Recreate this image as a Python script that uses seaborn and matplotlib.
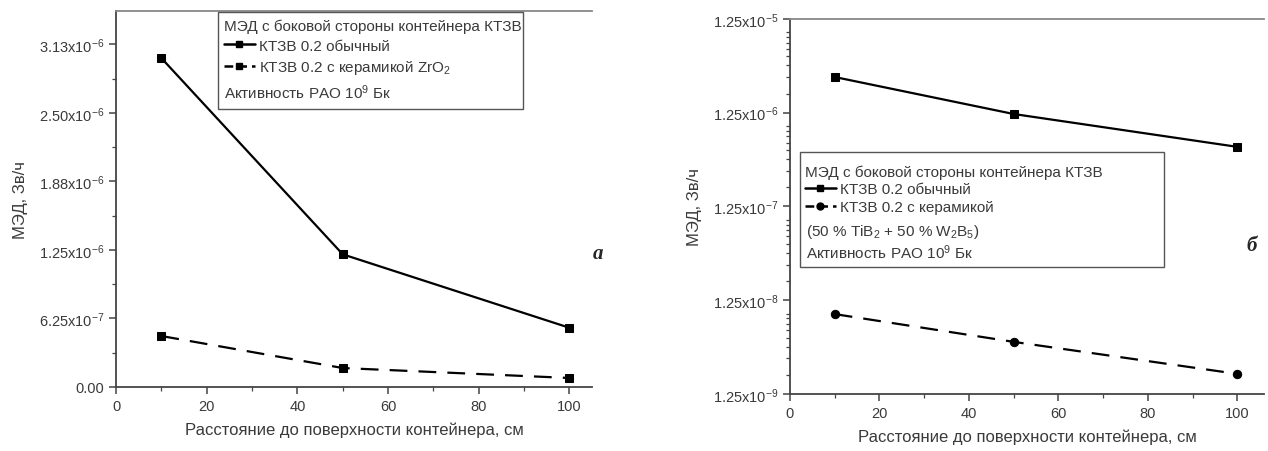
import numpy as np
import pandas as pd
import matplotlib
matplotlib.use("Agg")
import matplotlib.pyplot as plt
import seaborn as sns
from matplotlib.lines import Line2D
from matplotlib.patches import Rectangle
from matplotlib.ticker import FixedLocator, MultipleLocator, LogLocator, NullFormatter

# Данные
rasstoyanie = [10, 50, 100]
med_obychny = [3.0e-6, 1.21e-6, 5.4e-7]
med_zro2 = [4.65e-7, 1.73e-7, 8.2e-8]
med_tib2_w2b5 = [8.9e-9, 4.5e-9, 2.05e-9]

# Подписи делений
yticks_a = [0, 6.25e-7, 1.25e-6, 1.875e-6, 2.5e-6, 3.125e-6]
ylabels_a = ["0.00", r"6.25x10$^{-7}$", r"1.25x10$^{-6}$", r"1.88x10$^{-6}$",
             r"2.50x10$^{-6}$", r"3.13x10$^{-6}$"]
yticks_b = [1.25e-9, 1.25e-8, 1.25e-7, 1.25e-6, 1.25e-5]
ylabels_b = [r"1.25x10$^{-9}$", r"1.25x10$^{-8}$", r"1.25x10$^{-7}$",
             r"1.25x10$^{-6}$", r"1.25x10$^{-5}$"]

sns.set_theme(style="ticks")
plt.rcParams["font.family"] = ["Liberation Sans", "DejaVu Sans"]
plt.rcParams["mathtext.default"] = "regular"

text_color = "#3a3a3a"
spine_color = "#444444"
fs_leg = 11

fig = plt.figure(figsize=(12.68, 4.52), dpi=100)
ax_a = fig.add_axes([0.0915, 0.1416, 0.3755, 0.832])
ax_b = fig.add_axes([0.623, 0.126, 0.374, 0.830])

df_a = pd.DataFrame({"x": rasstoyanie, "obych": med_obychny, "zro2": med_zro2})
df_b = pd.DataFrame({"x": rasstoyanie, "obych": med_obychny, "cer": med_tib2_w2b5})

dash = (0, (8, 5))

# Панель а
sns.lineplot(data=df_a, x="x", y="obych", ax=ax_a, color="black", linewidth=1.6,
             marker="s", markersize=6, markeredgecolor="black")
sns.lineplot(data=df_a, x="x", y="zro2", ax=ax_a, color="black", linewidth=1.6,
             linestyle=dash, marker="s", markersize=6, markeredgecolor="black")

# Панель б
sns.lineplot(data=df_b, x="x", y="obych", ax=ax_b, color="black", linewidth=1.6,
             marker="s", markersize=6, markeredgecolor="black")
sns.lineplot(data=df_b, x="x", y="cer", ax=ax_b, color="black", linewidth=1.6,
             linestyle=dash, marker="o", markersize=6, markeredgecolor="black")

ax_a.set_xlim(0, 105)
ax_a.set_ylim(0, 3.43e-6)
ax_a.yaxis.set_major_locator(FixedLocator(yticks_a))
ax_a.set_yticklabels(ylabels_a)
ax_a.yaxis.set_minor_locator(FixedLocator([3.125e-7 + 6.25e-7 * i for i in range(5)]))

ax_b.set_yscale("log")
ax_b.set_xlim(0, 106)
ax_b.set_ylim(1.25e-9, 1.25e-5)
ax_b.yaxis.set_major_locator(FixedLocator(yticks_b))
ax_b.set_yticklabels(ylabels_b)
ax_b.yaxis.set_minor_locator(LogLocator(base=10, subs=np.arange(2, 10)))
ax_b.yaxis.set_minor_formatter(NullFormatter())

for ax in (ax_a, ax_b):
    ax.xaxis.set_major_locator(MultipleLocator(20))
    ax.xaxis.set_minor_locator(MultipleLocator(10))
    ax.set_xlabel("Расстояние до поверхности контейнера, см", fontsize=12,
                  color=text_color, labelpad=6)
    ax.set_ylabel("МЭД, Зв/ч", fontsize=12, color=text_color, labelpad=8)
    ax.tick_params(which="major", length=5, width=1.1, colors=spine_color,
                   labelcolor=text_color, labelsize=10.5)
    ax.tick_params(which="minor", length=3, width=0.9, colors=spine_color)
    for s in ("left", "bottom", "top"):
        ax.spines[s].set_color(spine_color)
        ax.spines[s].set_linewidth(1.3)
    ax.spines["right"].set_visible(False)
    ax.spines["top"].set_color("#888888")

h_obych = Line2D([], [], color="black", lw=1.8, marker="s", markersize=5)
h_zro2 = Line2D([], [], color="black", lw=1.8, linestyle=(0, (3.5, 2)), marker="s", markersize=5)
h_cer = Line2D([], [], color="black", lw=1.8, linestyle=(0, (3.5, 2)), marker="o", markersize=5)

# Легенда а
ax_a.add_patch(Rectangle((0.214, 0.739), 0.641, 0.258, transform=ax_a.transAxes,
                         facecolor="white", edgecolor="#555555", lw=1.0, zorder=5))
leg_a = ax_a.legend([h_obych, h_zro2],
                    ["КТЗВ 0.2 обычный", r"КТЗВ 0.2 с керамикой ZrO$_2$"],
                    title="МЭД с боковой стороны контейнера КТЗВ",
                    loc="upper left", bbox_to_anchor=(0.214, 0.995), frameon=False,
                    fontsize=fs_leg, title_fontsize=fs_leg, alignment="left",
                    handlelength=2.0, handletextpad=0.3, labelspacing=0.35,
                    borderpad=0.4, borderaxespad=0)
leg_a.set_zorder(6)
for t in leg_a.get_texts():
    t.set_color(text_color)
leg_a.get_title().set_color(text_color)
ax_a.text(0.227, 0.785, r"Активность РАО 10$^9$ Бк", transform=ax_a.transAxes,
          fontsize=fs_leg, color=text_color, zorder=7, va="center")

# Легенда б
ax_b.add_patch(Rectangle((0.021, 0.339), 0.768, 0.306, transform=ax_b.transAxes,
                         facecolor="white", edgecolor="#555555", lw=1.0, zorder=5))
leg_b = ax_b.legend([h_obych, h_cer],
                    ["КТЗВ 0.2 обычный", "КТЗВ 0.2 с керамикой"],
                    title="МЭД с боковой стороны контейнера КТЗВ",
                    loc="upper left", bbox_to_anchor=(0.022, 0.625), frameon=False,
                    fontsize=fs_leg, title_fontsize=fs_leg, alignment="left",
                    handlelength=2.0, handletextpad=0.3, labelspacing=0.25,
                    borderpad=0.3, borderaxespad=0)
leg_b.set_zorder(6)
for t in leg_b.get_texts():
    t.set_color(text_color)
leg_b.get_title().set_color(text_color)
ax_b.text(0.033, 0.435, r"(50 % TiB$_2$ + 50 % W$_2$B$_5$)", transform=ax_b.transAxes,
          fontsize=fs_leg, color=text_color, zorder=7, va="center")
ax_b.text(0.033, 0.379, r"Активность РАО 10$^9$ Бк", transform=ax_b.transAxes,
          fontsize=fs_leg, color=text_color, zorder=7, va="center")

# Буквы панелей
fig.text(0.472, 0.438, "а", fontsize=15, fontweight="bold", fontstyle="italic",
         family=["Liberation Serif", "DejaVu Serif"], ha="center", va="center")
fig.text(0.987, 0.456, "б", fontsize=15, fontweight="bold", fontstyle="italic",
         family=["Liberation Serif", "DejaVu Serif"], ha="center", va="center")

fig.savefig("out.png", dpi=100)
